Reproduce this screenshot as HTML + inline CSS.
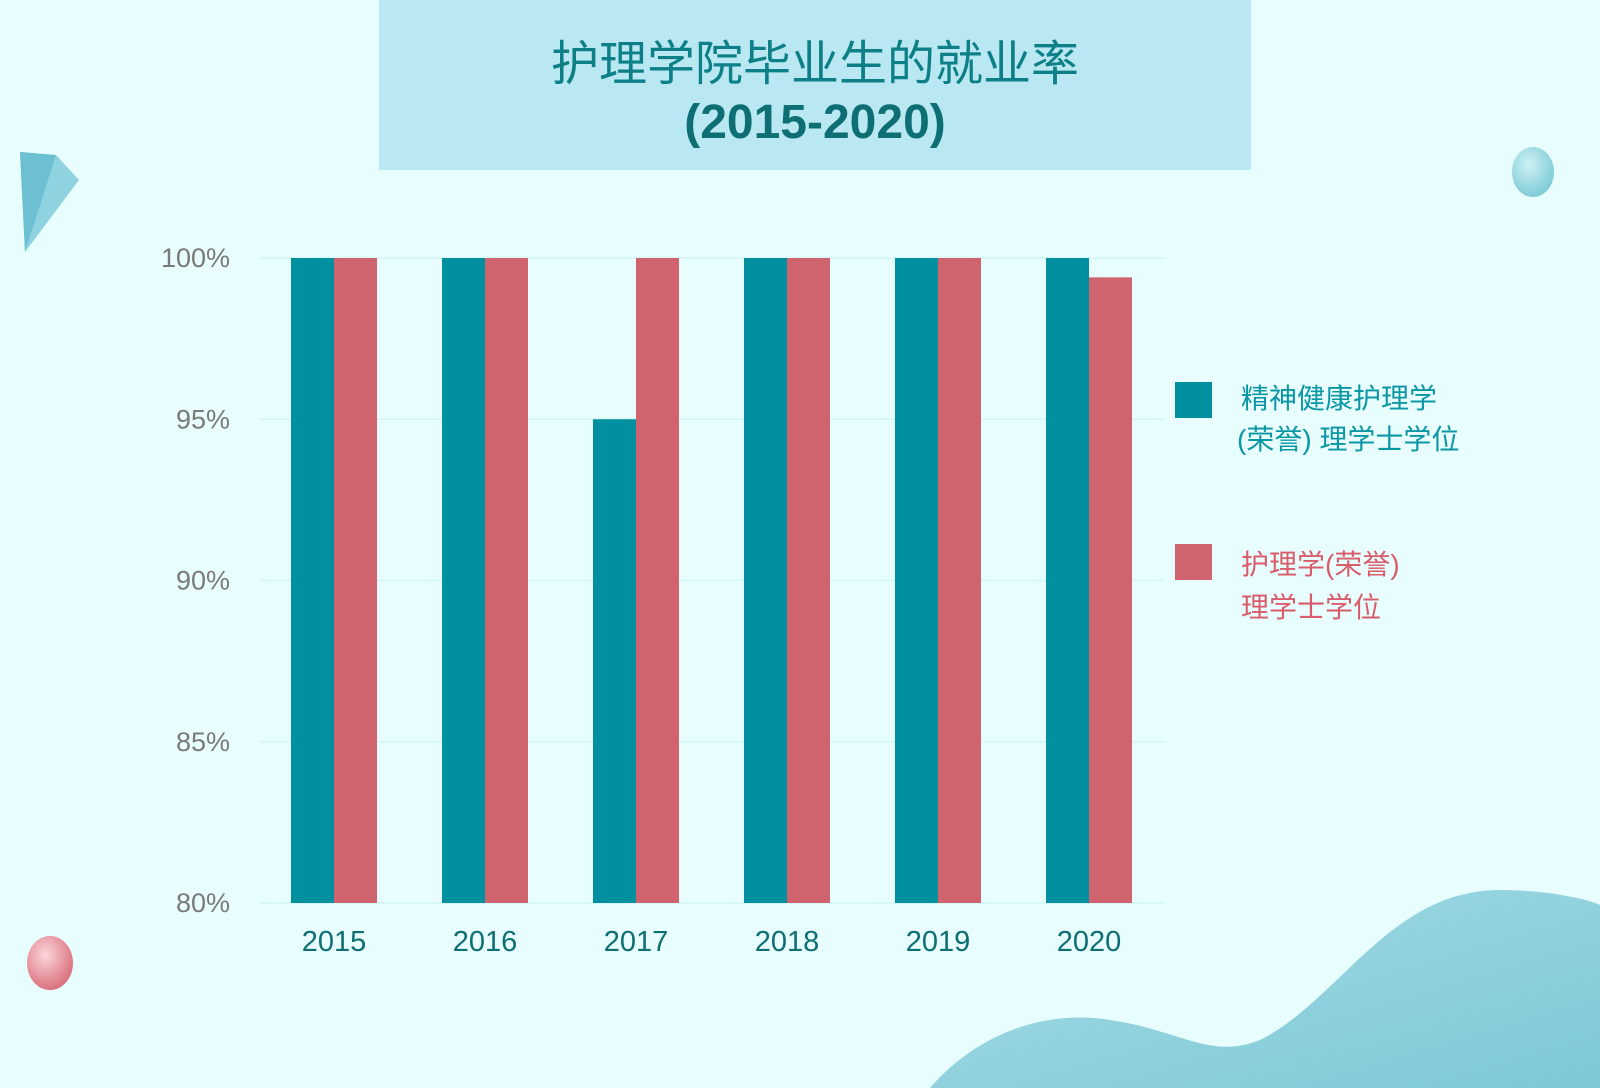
<!DOCTYPE html>
<html><head><meta charset="utf-8"><style>
body{margin:0;width:1600px;height:1088px;background:#e8fdfd;overflow:hidden;font-family:"Liberation Sans","Noto Sans CJK SC",sans-serif;}
svg{position:absolute;left:0;top:0}
</style></head><body>
<svg width="1600" height="1088">
<defs>
<linearGradient id="wave" x1="0" y1="0" x2="1" y2="1"><stop offset="0" stop-color="#a6dce6"/><stop offset="1" stop-color="#7cc8d6"/></linearGradient>
<radialGradient id="pk" cx="0.4" cy="0.35" r="0.7"><stop offset="0" stop-color="#fbd6da"/><stop offset="1" stop-color="#d86a78"/></radialGradient>
<radialGradient id="bl" cx="0.4" cy="0.35" r="0.7"><stop offset="0" stop-color="#c6eef2"/><stop offset="1" stop-color="#5fbccb"/></radialGradient>
</defs>
<path d="M930 1088 C980 1030 1050 1010 1110 1020 C1180 1030 1210 1060 1260 1040 C1340 1000 1390 890 1500 890 C1550 890 1590 900 1600 905 L1600 1088 Z" fill="url(#wave)"/>
<ellipse cx="50" cy="963" rx="23" ry="27" fill="url(#pk)"/>
<ellipse cx="1533" cy="172" rx="21" ry="25" fill="url(#bl)" opacity="0.8"/>
<polygon points="20,152 56,155 79,180 25,252" fill="#8fd3e0"/>
<polygon points="20,152 56,155 25,252" fill="#6cc0d2"/>
<rect x="379" y="0" width="872" height="170" fill="#b9e8f2"/>
<text x="815" y="80" text-anchor="middle" font-size="48" fill="#0d7f86">护理学院毕业生的就业率</text>
<text x="815" y="138" text-anchor="middle" font-size="48" font-weight="bold" fill="#0d6e74">(2015-2020)</text>
<g id="plot"></g>
<rect x="1175" y="382" width="37" height="36" fill="#0090a0"/>
<text font-size="28" fill="#0a97a5"><tspan x="1241" y="408">精神健康护理学</tspan><tspan x="1237" y="449">(荣誉) 理学士学位</tspan></text>
<rect x="1175" y="544" width="37" height="36" fill="#d0646e"/>
<text font-size="28" fill="#d85c6a"><tspan x="1241" y="574">护理学(荣誉)</tspan><tspan x="1241" y="617">理学士学位</tspan></text>
</svg>
<script>
const categories=["2015","2016","2017","2018","2019","2020"];
const mentalHealth=[100,100,95,100,100,100];
const nursing=[100,100,100,100,100,99.4];
const yTicks=[80,85,90,95,100];
const NS="http://www.w3.org/2000/svg";
const g=document.getElementById('plot');
const yMin=80,yMax=100,yTop=258,yBot=903,xL=260,xR=1165;
const y=v=>yBot-(v-yMin)/(yMax-yMin)*(yBot-yTop);
const groupX=i=>334+i*151;
const bw=43;
function mk(t,a){const e=document.createElementNS(NS,t);for(const k in a)e.setAttribute(k,a[k]);g.appendChild(e);return e;}
yTicks.forEach(t=>{
 const l=mk('line',{x1:xL,x2:xR,y1:y(t),y2:y(t),stroke:'#d2f6f6','stroke-width':1.5});
 
 
 const tx=mk('text',{x:230,y:y(t)+9,'text-anchor':'end','font-size':27,fill:'#7a7a7a'});
 tx.textContent=t+'%';
 
 
});
categories.forEach((c,i)=>{
 const cx=groupX(i);
 const b1=mk('rect',{x:cx-bw,y:y(mentalHealth[i]),width:bw,height:yBot-y(mentalHealth[i]),fill:'#0090a0'});
 
 
 const b2=mk('rect',{x:cx,y:y(nursing[i]),width:bw,height:yBot-y(nursing[i]),fill:'#d0646e'});
 
 
 const t=mk('text',{x:cx,y:951,'text-anchor':'middle','font-size':29,fill:'#0d6e74'});
 t.textContent=c;
 
 
});
</script>
</body></html>
